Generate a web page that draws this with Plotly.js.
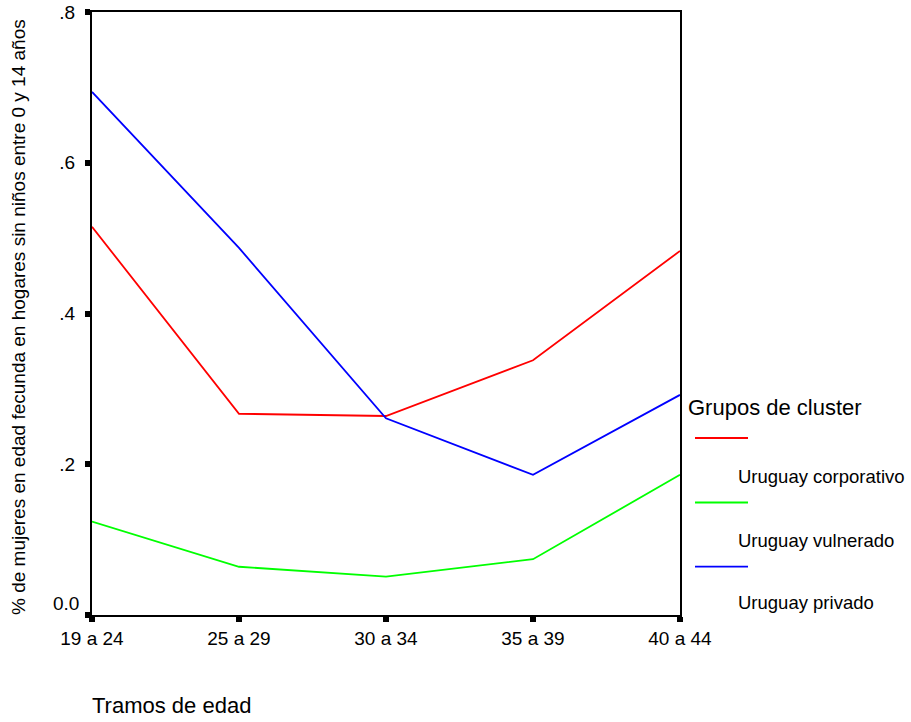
<!DOCTYPE html>
<html>
<head>
<meta charset="utf-8">
<script src="https://cdn.plot.ly/plotly-3.0.1.min.js"></script>
<style>html,body{margin:0;padding:0;background:#fff;}</style>
</head>
<body>
<div id="chart" style="width:911px;height:722px;"></div>
<script>
const categories = ["19 a 24", "25 a 29", "30 a 34", "35 a 39", "40 a 44"];
const seriesNames = ["Uruguay corporativo", "Uruguay vulnerado", "Uruguay privado"];
const corporativo = [0.515, 0.267, 0.264, 0.338, 0.483];
const vulnerado = [0.124, 0.064, 0.051, 0.074, 0.186];
const privado = [0.694, 0.487, 0.261, 0.186, 0.292];
const seriesColors = ["#ff0000", "#00ff00", "#0000ff"];
const yTickVals = [0, 0.2, 0.4, 0.6, 0.8];
const yTickText = ["", ".2", ".4", ".6", ".8"];

const FONT = "Liberation Sans, Arial, sans-serif";
const allSeries = [corporativo, vulnerado, privado];

const traces = allSeries.map((vals, i) => ({
  type: "scatter", mode: "lines",
  x: categories, y: vals, name: seriesNames[i],
  line: {color: seriesColors[i], width: 1.8},
  showlegend: false, hoverinfo: "x+y+name"
}));

// Manual legend (line sample above each label, as in the reference)
const L = 92, R = 680, T = 12, B = 615;
const px = v => (v - L) / (R - L);
const py = v => (B - v) / (B - T);
const legendLineY = [438, 502.5, 566.7];
const legendTextY = [477, 540, 602];

const shapes = legendLineY.map((yy, i) => ({
  type: "line", xref: "paper", yref: "paper",
  x0: px(695), x1: px(748), y0: py(yy), y1: py(yy),
  line: {color: seriesColors[i], width: 1.8}
}));

const annotations = [
  {text: "Grupos de cluster", xref: "paper", yref: "paper", x: px(686), y: py(407),
   xanchor: "left", yanchor: "middle", showarrow: false, font: {family: FONT, size: 22, color: "#000"}},
  {text: "0.0", xref: "paper", yref: "paper", x: px(81), y: py(603),
   xanchor: "right", yanchor: "middle", showarrow: false, font: {family: FONT, size: 19, color: "#000"}},
  {text: "Tramos de edad", xref: "paper", yref: "paper", x: px(90), y: py(705),
   xanchor: "left", yanchor: "middle", showarrow: false, font: {family: FONT, size: 22, color: "#000"}},
  {text: "% de mujeres en edad fecunda en hogares sin niños entre 0 y 14 años", xref: "paper", yref: "paper",
   x: px(18), y: py(317), xanchor: "center", yanchor: "middle", textangle: -90, showarrow: false,
   font: {family: FONT, size: 19, color: "#000"}}
].concat(seriesNames.map((n, i) => ({
  text: n, xref: "paper", yref: "paper", x: px(736), y: py(legendTextY[i]),
  xanchor: "left", yanchor: "middle", showarrow: false, font: {family: FONT, size: 18.5, color: "#000"}
})));

const layout = {
  width: 911, height: 722,
  margin: {l: L, r: 911 - R, t: T, b: 722 - B, pad: 0},
  paper_bgcolor: "#fff", plot_bgcolor: "#fff",
  font: {family: FONT, size: 19, color: "#000"},
  showlegend: false,
  xaxis: {
    type: "category", range: [0, 4], showgrid: false, zeroline: false,
    showline: true, linecolor: "#000", linewidth: 2, mirror: true,
    ticks: "outside", ticklen: 5, tickwidth: 6, tickcolor: "#000",
    tickfont: {family: FONT, size: 19}
  },
  yaxis: {
    range: [0, 0.8], showgrid: false, zeroline: false,
    showline: true, linecolor: "#000", linewidth: 2, mirror: true,
    ticks: "outside", ticklen: 5, tickwidth: 6, tickcolor: "#000",
    tickvals: yTickVals, ticktext: yTickText,
    tickfont: {family: FONT, size: 19}, ticklabelstandoff: 6
  },
  shapes: shapes,
  annotations: annotations
};

Plotly.newPlot("chart", traces, layout, {displayModeBar: false, staticPlot: true});
</script>
</body>
</html>
